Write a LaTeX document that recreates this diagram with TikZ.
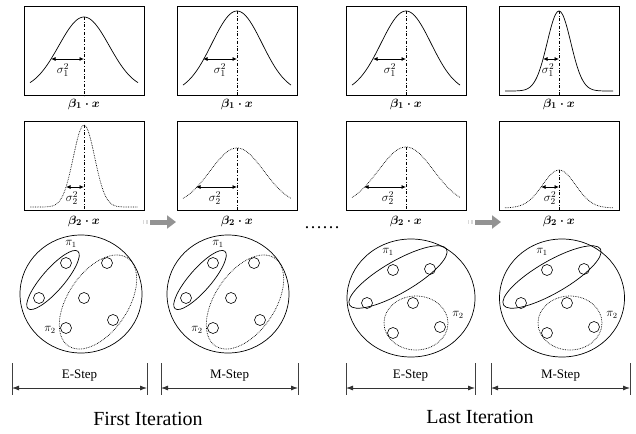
\documentclass[tikz,border=0pt]{standalone}
\usepackage{amsmath}
\usepackage{fontspec}
\setmainfont{Liberation Serif}
\usetikzlibrary{shapes.geometric, arrows.meta}

\begin{document}
\begin{tikzpicture}[x=1pt, y=-1pt,
    panel/.style={draw, line width=0.9pt, minimum width=120pt, minimum height=89pt, inner sep=0pt},
    meanline/.style={dash dot, line width=0.6pt},
    sigarrow/.style={{Latex[length=4.5pt,width=4pt]}-{Latex[length=4.5pt,width=4pt]}, line width=0.8pt},
    sig/.style={font=\fontsize{13}{13}\selectfont, inner sep=0pt},
    axislabel/.style={font=\fontsize{13}{13}\selectfont, inner sep=0pt},
    world/.style={ellipse, draw, line width=0.7pt, inner sep=0pt},
    pt/.style={circle, draw, line width=0.6pt, minimum size=11pt, inner sep=0pt},
    comp/.style={ellipse, draw, line width=0.7pt, inner sep=0pt},
    pilabel/.style={font=\fontsize{12}{12}\selectfont, inner sep=0pt},
    flow/.style={gray!85, line width=5pt, -{Triangle[length=9pt,width=13pt]}},
    stepbar/.style={black!75, line width=0.9pt},
    steparrow/.style={black!80, line width=0.8pt, {Latex[length=7pt,width=5pt]}-{Latex[length=7pt,width=5pt]}},
    steptext/.style={font=\fontsize{13}{13}\selectfont},
    itertext/.style={font=\fontsize{20}{20}\selectfont}
]
\useasboundingbox (0,0) rectangle (636,433);

% --- first row: beta_1 . x ---
\foreach \c/\cx/\bs/\amp/\sg/\d/\lx in {1/84/90/73/25.2/33/63, 2/237/93/82/25/34/220,
                                        3/406/93/82/25/33/390, 4/559/91/80/11.8/16/548}{
    \node[panel] (ga\c) at (\cx,51) {};
    \draw[line width=0.7pt] plot[domain=-54:54, samples=61, smooth]
        ({\cx+\x}, {\bs-\amp*exp(-(\x*\x)/(2*\sg*\sg))});
    \draw[meanline] (\cx,{\bs-\amp}) -- (\cx,96);
    \draw[sigarrow] ({\cx-\d},59) -- (\cx,59);
    \node[sig] (sa\c) at (\lx,70) {$\sigma_1^2$};
    \node[axislabel] (la\c) at (\cx,104) {$\boldsymbol{\beta_1\cdot x}$};
}

% --- second row: beta_2 . x (dotted) ---
\foreach \c/\cx/\bs/\amp/\sg/\d/\lx in {1/84/207/82/10.7/18/72, 2/237/206/58/26.8/41/215,
                                        3/406/206/59/27.5/42/388, 4/559/208/38/16.5/18/550}{
    \node[panel] (gb\c) at (\cx,166) {};
    \draw[densely dotted, line width=0.7pt] plot[domain=-54:54, samples=61, smooth]
        ({\cx+\x}, {\bs-\amp*exp(-(\x*\x)/(2*\sg*\sg))});
    \draw[meanline] (\cx,{\bs-\amp}) -- (\cx,210);
    \draw[sigarrow] ({\cx-\d},187) -- (\cx,187);
    \node[sig] (sb\c) at (\lx,198) {$\sigma_2^2$};
    \node[axislabel] (lb\c) at (\cx,221) {$\boldsymbol{\beta_2\cdot x}$};
}

% --- gray arrows between the iterations ---
\coordinate (f1s) at (150,222);
\coordinate (f1e) at (176,222);
\coordinate (f2s) at (475,222);
\coordinate (f2e) at (501,222);
\draw[gray!30, line width=4pt] (143,222) -- (144,222) (146,222) -- (147.5,222);
\draw[gray!30, line width=4pt] (468,222) -- (469,222) (471,222) -- (472.5,222);
\draw[flow] (f1s) -- (f1e);
\draw[flow] (f2s) -- (f2e);
\node[font=\fontsize{18}{18}\selectfont] (dots) at (322,228) {……};

% --- first iteration: clusters ---
\foreach \c/\dx in {1/0, 2/147}{
    \begin{scope}[xshift=\dx]
    \node[world, minimum width=122pt, minimum height=118pt] (w\c) at (81,294) {};
    \node[pt] (p\c1) at (66,263) {};
    \node[pt] (p\c2) at (39,298) {};
    \node[pt] (p\c3) at (84,298) {};
    \node[pt] (p\c4) at (107,263) {};
    \node[pt] (p\c5) at (113,320) {};
    \node[pt] (p\c6) at (66,328) {};
    \node[comp, minimum width=76pt, minimum height=22pt, rotate=49] (pa\c) at (53,280) {};
    \node[comp, densely dotted, minimum width=106pt, minimum height=60pt, rotate=56] (pb\c) at (98,302) {};
    \node[pilabel] (na\c) at (71,244) {$\pi_1$};
    \node[pilabel] (nb\c) at (50,330) {$\pi_2$};
    \end{scope}
}

% --- last iteration: clusters ---
\node[world, minimum width=128pt, minimum height=118pt] (w3) at (411,298) {};
\node[world, minimum width=125pt, minimum height=118pt] (w4) at (562,298) {};
\foreach \c/\dx in {3/0, 4/154}{
    \begin{scope}[xshift=\dx]
    \node[pt] (p\c1) at (393,270) {};
    \node[pt] (p\c2) at (430,269) {};
    \node[pt] (p\c3) at (367,303) {};
    \node[pt] (p\c4) at (413,303) {};
    \node[pt] (p\c5) at (440,327) {};
    \node[pt] (p\c6) at (393,333) {};
    \node[comp, minimum width=112pt, minimum height=32pt, rotate=30] (pa\c) at (398,277) {};
    \node[comp, densely dotted, minimum width=64pt, minimum height=54pt] (pb\c) at (416,323) {};
    \node[pilabel] (na\c) at (388,252) {$\pi_1$};
    \node[pilabel] (nb\c) at (458,315) {$\pi_2$};
    \end{scope}
}

% --- E-Step / M-Step brackets ---
\foreach \s/\xa/\xb/\txt in {1/12/147/E-Step, 2/161/298/M-Step, 3/346/475/E-Step, 4/491/630/M-Step}{
    \coordinate (sa\s) at (\xa,388);
    \coordinate (sb\s) at (\xb,388);
    \draw[stepbar] (\xa,363) -- (\xa,395);
    \draw[stepbar] (\xb,363) -- (\xb,395);
    \draw[steparrow] (sa\s) -- (sb\s);
    \node[steptext] (st\s) at ({(\xa+\xb)/2},376) {\txt};
}

\node[itertext] (first) at (148,419) {First Iteration};
\node[itertext] (last) at (480,417) {Last Iteration};

\end{tikzpicture}
\end{document}
